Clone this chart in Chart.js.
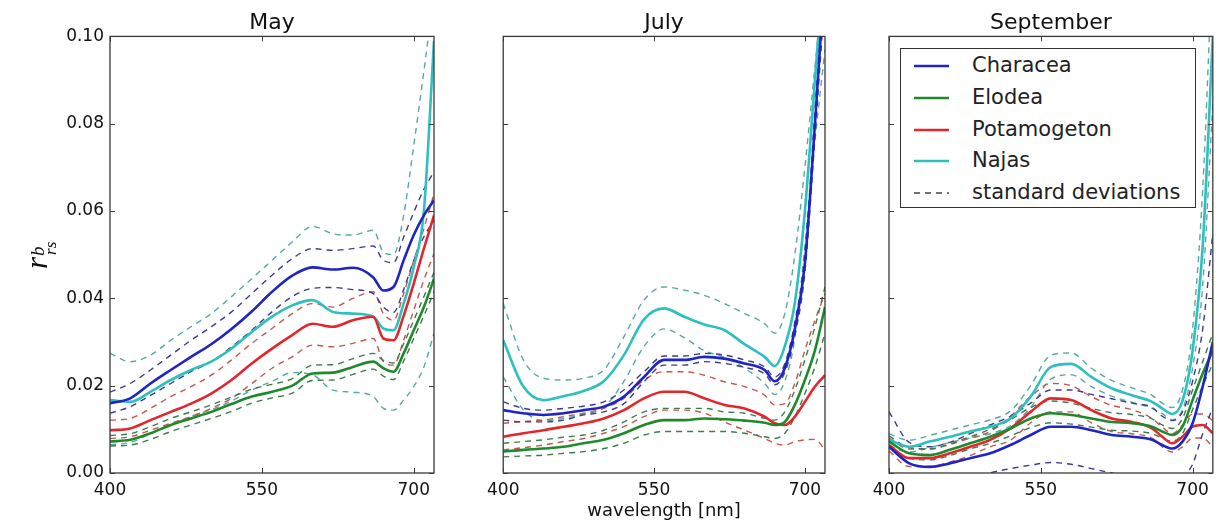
<!DOCTYPE html>
<html lang="en">
<head>
<meta charset="UTF-8">
<title>rrs b spectra</title>
<script src="https://cdn.jsdelivr.net/npm/chart.js"></script>
<style>
  body { margin: 0; background: #fff; }
  #wrap { position: relative; width: 1216px; height: 522px; overflow: hidden; }
  .panel { position: absolute; top: 0; }
  #ylab { position: absolute; left: -3px; top: 233px; width: 80px; height: 40px; line-height: 40px;
          text-align: center; transform: rotate(-90deg); font-family: 'Liberation Serif', serif;
          font-style: italic; font-size: 31px; color: #111; white-space: nowrap; }
  #ylab .ss { position: relative; display: inline-block; width: 20px; height: 30px; }
  #ylab .sup { position: absolute; left: 1px; top: 11px; font-size: 19px; line-height: 1; }
  #ylab .sub { position: absolute; left: 2px; top: 25px; font-size: 17px; line-height: 1; }
  #legend { position: absolute; left: 900px; top: 48px; width: 294px; height: 158px;
            border: 1.5px solid #333; background: #fff; font-family: 'DejaVu Sans', sans-serif;
            font-size: 21px; color: #222; }
  #legend .row { position: absolute; left: 0; height: 32px; width: 100%; }
  #legend svg { position: absolute; left: 13px; top: 13px; }
  #legend .lbl { position: absolute; left: 71px; top: 3px; }
</style>
</head>
<body>
<div id="wrap">
  <div class="panel" style="left:0px"><canvas id="cMay" width="440" height="522"></canvas></div>
  <div class="panel" style="left:480px"><canvas id="cJul" width="360" height="522"></canvas></div>
  <div class="panel" style="left:860px"><canvas id="cSep" width="356" height="522"></canvas></div>
  <div id="ylab">r<span class="ss"><span class="sup">b</span><span class="sub">rs</span></span></div>
  <div id="legend"></div>
</div>

<script>
// wavelength grid [nm]
const wavelengths = [400, 420, 440, 460, 480, 500, 520, 540, 560, 580, 600, 620, 640, 660, 670, 680, 690, 700, 710, 720];
const species = ['Characea', 'Elodea', 'Potamogeton', 'Najas'];
const xTicks = [400, 550, 700];
const yTicks = [0, 0.02, 0.04, 0.06, 0.08, 0.10];

// May
const mayCharacea   = [0.0160, 0.0171, 0.0205, 0.0236, 0.0266, 0.0295, 0.0330, 0.0370, 0.0415, 0.0452, 0.0471, 0.0466, 0.0470, 0.0448, 0.0418, 0.0426, 0.0487, 0.0545, 0.0590, 0.0625];
const mayCharaceaHi = [0.0185, 0.0205, 0.0236, 0.0270, 0.0304, 0.0335, 0.0369, 0.0411, 0.0453, 0.0491, 0.0514, 0.0510, 0.0514, 0.0520, 0.0487, 0.0482, 0.0540, 0.0597, 0.0650, 0.0690];
const mayCharaceaLo = [0.0137, 0.0152, 0.0178, 0.0205, 0.0232, 0.0255, 0.0289, 0.0327, 0.0369, 0.0404, 0.0423, 0.0425, 0.0420, 0.0411, 0.0380, 0.0368, 0.0420, 0.0487, 0.0541, 0.0579];
const mayElodea     = [0.0072, 0.0076, 0.0091, 0.0110, 0.0125, 0.0140, 0.0158, 0.0175, 0.0186, 0.0200, 0.0228, 0.0230, 0.0243, 0.0255, 0.0240, 0.0232, 0.0274, 0.0327, 0.0380, 0.0445];
const mayElodeaHi   = [0.0086, 0.0090, 0.0106, 0.0125, 0.0140, 0.0156, 0.0174, 0.0192, 0.0203, 0.0216, 0.0247, 0.0248, 0.0262, 0.0274, 0.0258, 0.0252, 0.0296, 0.0350, 0.0404, 0.0460];
const mayElodeaLo   = [0.0062, 0.0064, 0.0077, 0.0095, 0.0110, 0.0125, 0.0141, 0.0160, 0.0172, 0.0183, 0.0212, 0.0213, 0.0226, 0.0238, 0.0222, 0.0214, 0.0256, 0.0308, 0.0360, 0.0415];
const mayPotamogeton   = [0.0098, 0.0102, 0.0121, 0.0140, 0.0159, 0.0182, 0.0213, 0.0251, 0.0285, 0.0316, 0.0342, 0.0335, 0.0350, 0.0358, 0.0308, 0.0304, 0.0360, 0.0434, 0.0514, 0.0590];
const mayPotamogetonHi = [0.0121, 0.0125, 0.0148, 0.0175, 0.0198, 0.0224, 0.0259, 0.0297, 0.0331, 0.0365, 0.0388, 0.0380, 0.0400, 0.0415, 0.0365, 0.0350, 0.0411, 0.0487, 0.0560, 0.0640];
const mayPotamogetonLo = [0.0079, 0.0083, 0.0098, 0.0114, 0.0129, 0.0148, 0.0171, 0.0205, 0.0240, 0.0266, 0.0293, 0.0289, 0.0297, 0.0308, 0.0255, 0.0247, 0.0304, 0.0373, 0.0442, 0.0503];
const mayNajas      = [0.0167, 0.0163, 0.0186, 0.0213, 0.0236, 0.0255, 0.0285, 0.0323, 0.0358, 0.0384, 0.0396, 0.0369, 0.0365, 0.0358, 0.0331, 0.0327, 0.0388, 0.0472, 0.0600, 0.0990];
const mayNajasHi    = [0.0274, 0.0255, 0.0270, 0.0304, 0.0335, 0.0365, 0.0404, 0.0445, 0.0487, 0.0529, 0.0565, 0.0548, 0.0545, 0.0556, 0.0506, 0.0500, 0.0590, 0.0750, 0.0920, 0.1100];
const mayNajasLo    = [0.0065, 0.0070, 0.0090, 0.0110, 0.0130, 0.0145, 0.0165, 0.0190, 0.0210, 0.0230, 0.0225, 0.0190, 0.0185, 0.0175, 0.0148, 0.0144, 0.0167, 0.0198, 0.0243, 0.0320];

// July
const julCharacea   = [0.0144, 0.0137, 0.0133, 0.0137, 0.0144, 0.0152, 0.0175, 0.0220, 0.0259, 0.0259, 0.0266, 0.0262, 0.0251, 0.0236, 0.0210, 0.0240, 0.0330, 0.0480, 0.0800, 0.1150];
const julCharaceaHi = [0.0163, 0.0148, 0.0144, 0.0148, 0.0153, 0.0163, 0.0190, 0.0232, 0.0268, 0.0268, 0.0274, 0.0270, 0.0259, 0.0243, 0.0220, 0.0250, 0.0345, 0.0500, 0.0830, 0.1180];
const julCharaceaLo = [0.0121, 0.0117, 0.0117, 0.0121, 0.0133, 0.0140, 0.0159, 0.0209, 0.0247, 0.0247, 0.0255, 0.0251, 0.0242, 0.0227, 0.0202, 0.0230, 0.0315, 0.0460, 0.0770, 0.1100];
const julElodea     = [0.0049, 0.0053, 0.0056, 0.0060, 0.0068, 0.0076, 0.0091, 0.0110, 0.0121, 0.0121, 0.0125, 0.0123, 0.0120, 0.0115, 0.0110, 0.0117, 0.0156, 0.0213, 0.0281, 0.0380];
const julElodeaHi   = [0.0068, 0.0072, 0.0076, 0.0082, 0.0087, 0.0098, 0.0117, 0.0140, 0.0148, 0.0148, 0.0148, 0.0140, 0.0137, 0.0125, 0.0121, 0.0140, 0.0190, 0.0259, 0.0335, 0.0426];
const julElodeaLo   = [0.0037, 0.0039, 0.0041, 0.0045, 0.0049, 0.0056, 0.0068, 0.0087, 0.0095, 0.0095, 0.0095, 0.0095, 0.0091, 0.0083, 0.0079, 0.0091, 0.0129, 0.0182, 0.0243, 0.0320];
const julPotamogeton   = [0.0083, 0.0091, 0.0098, 0.0106, 0.0114, 0.0125, 0.0144, 0.0171, 0.0186, 0.0186, 0.0171, 0.0156, 0.0148, 0.0129, 0.0114, 0.0110, 0.0129, 0.0163, 0.0198, 0.0224];
const julPotamogetonHi = [0.0114, 0.0118, 0.0121, 0.0129, 0.0137, 0.0148, 0.0171, 0.0213, 0.0232, 0.0232, 0.0224, 0.0209, 0.0198, 0.0178, 0.0156, 0.0159, 0.0205, 0.0281, 0.0350, 0.0411];
const julPotamogetonLo = [0.0053, 0.0058, 0.0064, 0.0072, 0.0079, 0.0091, 0.0106, 0.0129, 0.0144, 0.0144, 0.0137, 0.0117, 0.0098, 0.0079, 0.0068, 0.0064, 0.0072, 0.0076, 0.0077, 0.0053];
const julNajas      = [0.0304, 0.0198, 0.0167, 0.0176, 0.0188, 0.0210, 0.0270, 0.0352, 0.0377, 0.0358, 0.0340, 0.0327, 0.0295, 0.0266, 0.0245, 0.0290, 0.0390, 0.0600, 0.0900, 0.1200];
const julNajasHi    = [0.0388, 0.0259, 0.0217, 0.0213, 0.0217, 0.0236, 0.0312, 0.0396, 0.0426, 0.0419, 0.0407, 0.0388, 0.0365, 0.0342, 0.0320, 0.0365, 0.0500, 0.0700, 0.0930, 0.1150];
const julNajasLo    = [0.0220, 0.0145, 0.0120, 0.0125, 0.0135, 0.0150, 0.0210, 0.0290, 0.0330, 0.0310, 0.0280, 0.0265, 0.0240, 0.0205, 0.0180, 0.0210, 0.0310, 0.0520, 0.0760, 0.0970];

// September
const sepCharacea   = [0.0060, 0.0022, 0.0014, 0.0022, 0.0034, 0.0045, 0.0064, 0.0087, 0.0106, 0.0106, 0.0098, 0.0087, 0.0083, 0.0076, 0.0064, 0.0056, 0.0072, 0.0114, 0.0198, 0.0300];
const sepCharaceaHi = [0.0140, 0.0070, 0.0060, 0.0070, 0.0090, 0.0110, 0.0130, 0.0160, 0.0190, 0.0190, 0.0180, 0.0170, 0.0160, 0.0150, 0.0130, 0.0120, 0.0140, 0.0210, 0.0330, 0.0550];
const sepCharaceaLo = [-0.0010, -0.0030, -0.0050, -0.0040, -0.0020, 0.0000, 0.0010, 0.0018, 0.0024, 0.0020, 0.0010, 0.0000, -0.0010, -0.0020, -0.0030, -0.0030, -0.0010, 0.0020, 0.0090, 0.0150];
const sepElodea     = [0.0072, 0.0045, 0.0041, 0.0053, 0.0068, 0.0083, 0.0102, 0.0125, 0.0137, 0.0133, 0.0125, 0.0117, 0.0114, 0.0106, 0.0095, 0.0087, 0.0106, 0.0167, 0.0228, 0.0280];
const sepElodeaHi   = [0.0085, 0.0058, 0.0055, 0.0067, 0.0083, 0.0100, 0.0122, 0.0150, 0.0165, 0.0160, 0.0148, 0.0138, 0.0134, 0.0124, 0.0110, 0.0102, 0.0125, 0.0190, 0.0255, 0.0320];
const sepElodeaLo   = [0.0060, 0.0034, 0.0030, 0.0040, 0.0055, 0.0068, 0.0085, 0.0104, 0.0115, 0.0112, 0.0105, 0.0098, 0.0096, 0.0090, 0.0080, 0.0073, 0.0090, 0.0145, 0.0200, 0.0250];
const sepPotamogeton   = [0.0064, 0.0034, 0.0034, 0.0045, 0.0060, 0.0076, 0.0102, 0.0140, 0.0171, 0.0167, 0.0144, 0.0125, 0.0117, 0.0102, 0.0083, 0.0068, 0.0083, 0.0106, 0.0110, 0.0091];
const sepPotamogetonHi = [0.0080, 0.0055, 0.0055, 0.0065, 0.0080, 0.0095, 0.0130, 0.0175, 0.0205, 0.0200, 0.0175, 0.0155, 0.0145, 0.0125, 0.0105, 0.0090, 0.0110, 0.0135, 0.0135, 0.0120];
const sepPotamogetonLo = [0.0050, 0.0015, 0.0015, 0.0025, 0.0040, 0.0060, 0.0075, 0.0115, 0.0140, 0.0140, 0.0115, 0.0095, 0.0090, 0.0080, 0.0060, 0.0048, 0.0060, 0.0080, 0.0080, 0.0060];
const sepNajas      = [0.0076, 0.0060, 0.0072, 0.0083, 0.0095, 0.0106, 0.0125, 0.0175, 0.0243, 0.0250, 0.0220, 0.0194, 0.0178, 0.0163, 0.0148, 0.0135, 0.0165, 0.0280, 0.0520, 0.1000];
const sepNajasHi    = [0.0090, 0.0075, 0.0086, 0.0098, 0.0110, 0.0122, 0.0142, 0.0200, 0.0270, 0.0275, 0.0240, 0.0212, 0.0195, 0.0178, 0.0160, 0.0150, 0.0190, 0.0330, 0.0650, 0.1200];
const sepNajasLo    = [0.0062, 0.0048, 0.0058, 0.0070, 0.0080, 0.0090, 0.0108, 0.0150, 0.0215, 0.0225, 0.0198, 0.0176, 0.0162, 0.0148, 0.0136, 0.0122, 0.0145, 0.0240, 0.0430, 0.0850];

const lineColors = ['#1f24c4', '#1f8a2c', '#e3262b', '#2ebfbf'];
const dashColors = ['#3a3c8e', '#3c7c4c', '#c4584f', '#58a8a4'];

const months = [
  { id: 'cMay', title: 'May', yWidth: 110, padRight: 6, showY: true, xTitle: '',
    mean: [mayCharacea, mayElodea, mayPotamogeton, mayNajas],
    hi: [mayCharaceaHi, mayElodeaHi, mayPotamogetonHi, mayNajasHi],
    lo: [mayCharaceaLo, mayElodeaLo, mayPotamogetonLo, mayNajasLo] },
  { id: 'cJul', title: 'July', yWidth: 19, padRight: 15, showY: false, xTitle: 'wavelength [nm]',
    mean: [julCharacea, julElodea, julPotamogeton, julNajas],
    hi: [julCharaceaHi, julElodeaHi, julPotamogetonHi, julNajasHi],
    lo: [julCharaceaLo, julElodeaLo, julPotamogetonLo, julNajasLo] },
  { id: 'cSep', title: 'September', yWidth: 29, padRight: 2, showY: false, xTitle: '',
    mean: [sepCharacea, sepElodea, sepPotamogeton, sepNajas],
    hi: [sepCharaceaHi, sepElodeaHi, sepPotamogetonHi, sepNajasHi],
    lo: [sepCharaceaLo, sepElodeaLo, sepPotamogetonLo, sepNajasLo] }
];

const pts = arr => arr.map((v, i) => ({ x: wavelengths[i], y: v }));

// box around the axes plus matplotlib style inward ticks
const frame = {
  id: 'frame',
  afterDraw(chart) {
    const { ctx, chartArea: a, scales: { x, y } } = chart;
    ctx.save();
    ctx.strokeStyle = '#3a3a3a';
    ctx.lineWidth = 1.3;
    ctx.strokeRect(a.left, a.top, a.width, a.height);
    ctx.beginPath();
    x.ticks.forEach(t => {
      const px = Math.round(x.getPixelForValue(t.value)) + 0.5;
      ctx.moveTo(px, a.bottom); ctx.lineTo(px, a.bottom - 5);
      ctx.moveTo(px, a.top); ctx.lineTo(px, a.top + 5);
    });
    y.ticks.forEach(t => {
      const py = Math.round(y.getPixelForValue(t.value)) + 0.5;
      ctx.moveTo(a.left, py); ctx.lineTo(a.left + 5, py);
      ctx.moveTo(a.right, py); ctx.lineTo(a.right - 5, py);
    });
    ctx.lineWidth = 1;
    ctx.stroke();
    ctx.restore();
  }
};

months.forEach(m => {
  const datasets = [];
  species.forEach((s, i) => {
    datasets.push({ label: s, data: pts(m.mean[i]), borderColor: lineColors[i], borderWidth: 2.6, order: 0 });
  });
  species.forEach((s, i) => {
    datasets.push({ label: s + ' +sd', data: pts(m.hi[i]), borderColor: dashColors[i], borderWidth: 1.4, borderDash: [6, 5], order: 1 });
    datasets.push({ label: s + ' -sd', data: pts(m.lo[i]), borderColor: dashColors[i], borderWidth: 1.4, borderDash: [6, 5], order: 1 });
  });

  new Chart(document.getElementById(m.id), {
    type: 'line',
    data: { datasets },
    plugins: [frame],
    options: {
      responsive: false,
      animation: false,
      layout: { padding: { top: 0, left: 0, right: m.padRight, bottom: 0 } },
      elements: { point: { radius: 0 }, line: { cubicInterpolationMode: 'monotone', fill: false } },
      plugins: {
        legend: { display: false },
        tooltip: { enabled: false },
        title: { display: true, text: m.title, fullSize: false, color: '#111',
                 font: { family: 'DejaVu Sans', size: 22, weight: 'normal' }, padding: { top: 10, bottom: 0 } }
      },
      scales: {
        x: {
          type: 'linear', min: 400, max: 720,
          afterBuildTicks: s => { s.ticks = xTicks.map(v => ({ value: v })); },
          afterFit: s => { s.height = 49; },
          grid: { display: false, drawTicks: false }, border: { display: false },
          ticks: { color: '#111', font: { family: 'DejaVu Sans', size: 17 }, padding: 7, maxRotation: 0, autoSkip: false },
          title: { display: m.xTitle !== '', text: m.xTitle, color: '#111',
                   font: { family: 'DejaVu Sans', size: 18 }, padding: { top: 0, bottom: 0 } }
        },
        y: {
          min: 0, max: 0.10,
          afterBuildTicks: s => { s.ticks = yTicks.map(v => ({ value: v })); },
          afterFit: s => { s.width = m.yWidth; },
          grid: { display: false, drawTicks: false }, border: { display: false },
          ticks: { display: m.showY, color: '#111', font: { family: 'DejaVu Sans', size: 17 }, padding: 6,
                   callback: v => v.toFixed(2) }
        }
      }
    }
  });
});

// legend drawn as html, from the same species / colour lists
const legend = document.getElementById('legend');
const rows = species.map((s, i) => ({ label: s, color: lineColors[i], dash: '' }));
rows.push({ label: 'standard deviations', color: '#444', dash: '6,5' });
rows.forEach((r, i) => {
  const row = document.createElement('div');
  row.className = 'row';
  row.style.top = (1 + i * 31.8) + 'px';
  row.innerHTML = '<svg width="36" height="6"><line x1="0" y1="3" x2="35" y2="3" stroke="' + r.color +
    '" stroke-width="' + (r.dash ? 1.6 : 2.6) + '"' + (r.dash ? ' stroke-dasharray="' + r.dash + '"' : '') +
    '/></svg><span class="lbl">' + r.label + '</span>';
  legend.appendChild(row);
});
</script>
</body>
</html>
